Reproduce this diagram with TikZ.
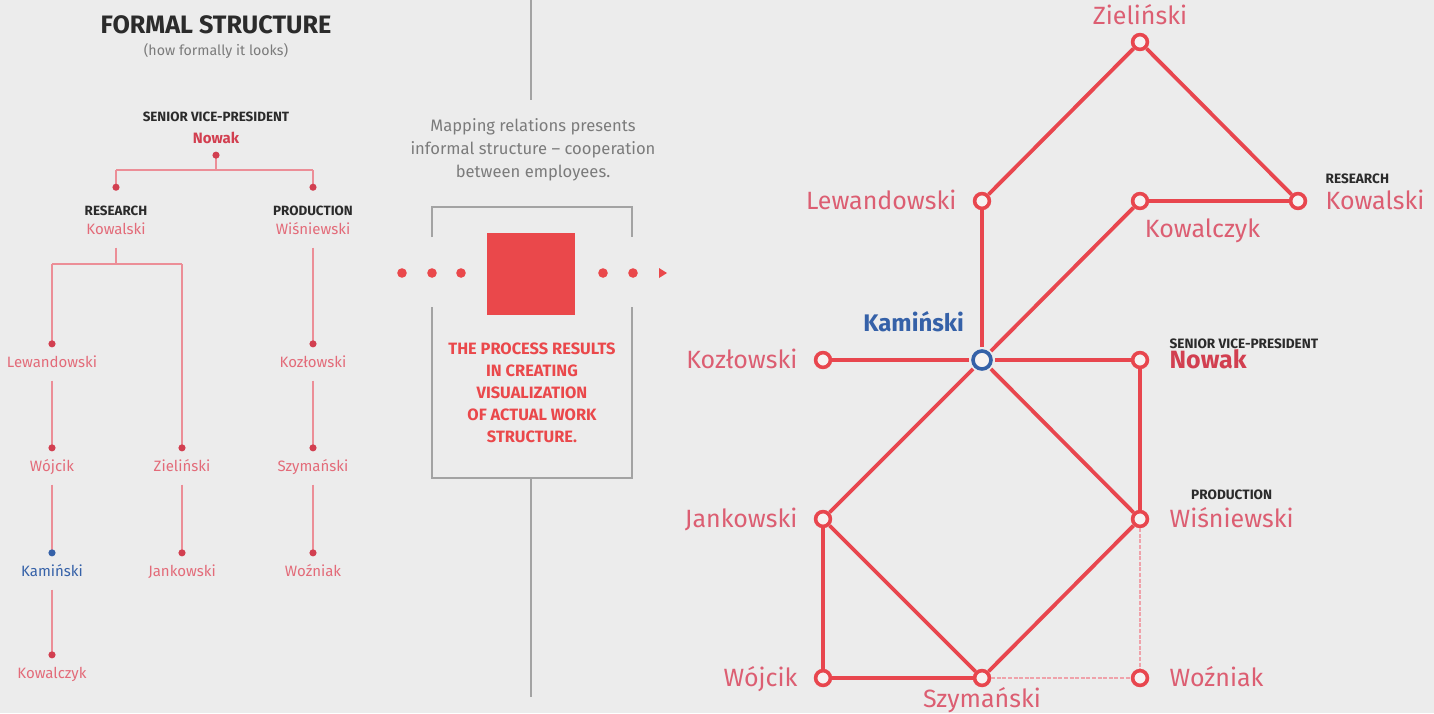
\documentclass[tikz,border=0pt]{standalone}
\usepackage{fontspec}
\setmainfont{Fira Sans}
\usetikzlibrary{arrows.meta,positioning}
\definecolor{bgc}{HTML}{ECECEC}
\definecolor{linered}{HTML}{E8464E}
\definecolor{namepink}{HTML}{DC5E72}
\definecolor{treepink}{HTML}{E36B79}
\definecolor{treeline}{HTML}{EC8E97}
\definecolor{dotred}{HTML}{D23F50}
\definecolor{kamblue}{HTML}{3561A8}
\definecolor{darktxt}{HTML}{2B2B2B}
\definecolor{graytxt}{HTML}{7B7B7B}
\definecolor{grayline}{HTML}{A3A3A3}
\definecolor{weakpink}{HTML}{EFA2AA}
\definecolor{sqred}{HTML}{EA484B}
\definecolor{stfill}{HTML}{F6F2F2}

\begin{document}
\begin{tikzpicture}[
  x=0.5pt, y=-0.5pt,
  tname/.style={text=treepink, font=\fontsize{7.5}{9}\selectfont, inner sep=0pt,
     text height=5.25pt, text depth=0pt},
  thead/.style={text=darktxt, font=\bfseries\fontsize{6.7}{7}\selectfont, inner sep=0pt},
  tbar/.style={draw=treeline, line width=0.8pt},
  tline/.style={tbar, shorten <=6.5pt, shorten >=4.5pt},
  dotend/.style={-{Circle[length=3.5pt,color=dotred]}},
  st/.style={circle, draw=linered, line width=1.8pt, fill=stfill, inner sep=0pt,
     minimum size=7.4pt},
  stmain/.style={st, draw=kamblue, minimum size=9pt},
  gname/.style={text=namepink, font=\fontsize{12.5}{14}\selectfont, inner sep=0pt,
     text height=8.75pt, text depth=0pt},
  gtitle/.style={text=darktxt, font=\bfseries\fontsize{6.8}{7}\selectfont, inner sep=0pt},
  link/.style={draw=linered, line width=1.9pt},
  tokam/.style={link, shorten >=0.9pt},
  weak/.style={draw=weakpink, line width=0.8pt, dash pattern=on 2pt off 0.8pt},
  boxline/.style={draw=grayline, line width=0.75pt},
]
\useasboundingbox (0,0) rectangle (1434,713);
\fill[bgc] (0,0) rectangle (1434,713);

% --- formal structure (left) ---
\node[text=darktxt, font=\bfseries\fontsize{12.6}{14}\selectfont] (title) at (216,25) {FORMAL STRUCTURE};
\node[text=graytxt, font=\fontsize{7.1}{8}\selectfont] (subtitle) at (216,51) {(how formally it looks)};
\node[thead] (svpT) at (216,117) {SENIOR VICE-PRESIDENT};
\node[tname, text=dotred, font=\bfseries\fontsize{7.5}{9}\selectfont] (nowakT) at (216,138) {Nowak};
\node[thead] (resT)  at (116,211) {RESEARCH};
\node[tname] (kowT)  at (116,229) {Kowalski};
\node[thead] (prodT) at (313,211) {PRODUCTION};
\node[tname] (wisT)  at (313,229) {Wiśniewski};
\node[tname] (lewT)  at (52,362) {Lewandowski};
\node[tname] (wojT)  at (52,466) {Wójcik};
\node[tname, text=kamblue] (kamT) at (52,571) {Kamiński};
\node[tname] (kowcT) at (52,673) {Kowalczyk};
\node[tname] (zielT) at (182,466) {Zieliński};
\node[tname] (jankT) at (182,571) {Jankowski};
\node[tname] (kozT)  at (313,362) {Kozłowski};
\node[tname] (szyT)  at (313,466) {Szymański};
\node[tname] (wozT)  at (313,571) {Woźniak};
% junctions
\coordinate (j0)  at (216,170);
\coordinate (j0l) at (116,170);
\coordinate (j0r) at (313,170);
\coordinate (j1)  at (116,264);
\coordinate (j1l) at (52,264);
\coordinate (j1r) at (182,264);
% tree lines
\draw[tbar, {Circle[length=3.5pt,color=dotred]}-, shorten <=4pt] (nowakT.south) -- (j0);
\draw[tbar] (j0l) -- (j0r);
\draw[tbar, dotend, shorten >=7.5pt] (j0l) -- (resT.north);
\draw[tbar, dotend, shorten >=7.5pt] (j0r) -- (prodT.north);
\draw[tbar, shorten <=6.5pt] (kowT.south) -- (j1);
\draw[tbar] (j1l) -- (j1r);
\draw[tbar, dotend, shorten >=4.5pt] (j1l) -- (lewT.north);
\draw[tbar, dotend, shorten >=4.5pt] (j1r) -- (zielT.north);
\draw[tline, dotend] (lewT.south) -- (wojT.north);
\draw[tline, -{Circle[length=3.5pt,color=kamblue]}] (wojT.south) -- (kamT.north);
\draw[tline, dotend] (kamT.south) -- (kowcT.north);
\draw[tline, dotend] (zielT.south) -- (jankT.north);
\draw[tline, dotend] (wisT.south) -- (kozT.north);
\draw[tline, dotend] (kozT.south) -- (szyT.north);
\draw[tline, dotend] (szyT.south) -- (wozT.north);

% --- middle: divider, note, process box ---
\draw[boxline] (531,0) -- (531,100);
\draw[boxline] (531,478) -- (531,697);
\node[text=graytxt, font=\fontsize{8.3}{11.5}\selectfont, align=center] (mapT) at (533,150)
  {Mapping relations presents\\informal structure – cooperation\\between employees.};
\draw[boxline] (432,237) -- (432,207) -- (632,207) -- (632,237);
\draw[boxline] (432,307) -- (432,478) -- (632,478) -- (632,307);
\node[fill=sqred, minimum width=44pt, minimum height=41pt, inner sep=0pt] (sq) at (531,274) {};
\foreach \x in {402,432,461,603,633}
  \fill[sqred] (\x,273) circle (2.4pt);
\fill[sqred] (659,268) -- (667,273) -- (659,278) -- cycle;
\node[text=sqred, font=\bfseries\fontsize{8.2}{11}\selectfont, align=center] (resultT) at (532,393)
  {THE PROCESS RESULTS\\IN CREATING\\VISUALIZATION\\OF ACTUAL WORK\\STRUCTURE.};

% --- informal structure (right) ---
\node[st] (ziel)  at (1140,42)  {};
\node[st] (lew)   at (982,201)  {};
\node[st] (kowc)  at (1140,201) {};
\node[st] (kow)   at (1298,201) {};
\node[stmain] (kam) at (982,360) {};
\node[st] (koz)   at (823,360)  {};
\node[st] (nowak) at (1140,360) {};
\node[st] (jank)  at (823,519)  {};
\node[st] (wis)   at (1140,519) {};
\node[st] (woj)   at (823,678)  {};
\node[st] (szy)   at (982,678)  {};
\node[st] (woz)   at (1140,678) {};
% labels
\node[gname, above=4pt of ziel] (zielL) {Zieliński};
\node[gname, left=8pt of lew] (lewL) {Lewandowski};
\node[gname, below right=6pt and -1pt of kowc] (kowcL) {Kowalczyk};
\node[gname, right=9pt of kow] (kowL) {Kowalski};
\node[gtitle, above=4pt of kowL.north west, anchor=south west] (resL) {RESEARCH};
\node[gname, text=kamblue, font=\bfseries\fontsize{12}{14}\selectfont,
      above left=10pt and 5pt of kam] (kamL) {Kamiński};
\node[gname, left=8pt of koz] (kozL) {Kozłowski};
\node[gname, text=dotred, font=\bfseries\fontsize{12.5}{14}\selectfont, right=10pt of nowak] (nowakL) {Nowak};
\node[gtitle, above=1pt of nowakL.north west, anchor=south west] (svpL) {SENIOR VICE-PRESIDENT};
\node[gname, left=8pt of jank] (jankL) {Jankowski};
\node[gname, right=10pt of wis] (wisL) {Wiśniewski};
\node[gtitle, above=5pt of wisL] (prodL) {PRODUCTION};
\node[gname, left=8pt of woj] (wojL) {Wójcik};
\node[gname, below=1.3pt of szy] (szyL) {Szymański};
\node[gname, right=10pt of woz] (wozL) {Woźniak};
% links
\draw[link] (ziel) -- (lew);
\draw[link] (ziel) -- (kow);
\draw[link] (kow) -- (kowc);
\draw[tokam] (kowc) -- (kam);
\draw[tokam] (lew) -- (kam);
\draw[tokam] (koz) -- (kam);
\draw[tokam] (nowak) -- (kam);
\draw[tokam] (jank) -- (kam);
\draw[tokam] (wis) -- (kam);
\draw[link] (nowak) -- (wis);
\draw[link] (jank) -- (woj);
\draw[link] (jank) -- (szy);
\draw[link] (woj) -- (szy);
\draw[link] (szy) -- (wis);
\draw[weak] (wis) -- (woz);
\draw[weak] (szy) -- (woz);
\end{tikzpicture}
\end{document}
